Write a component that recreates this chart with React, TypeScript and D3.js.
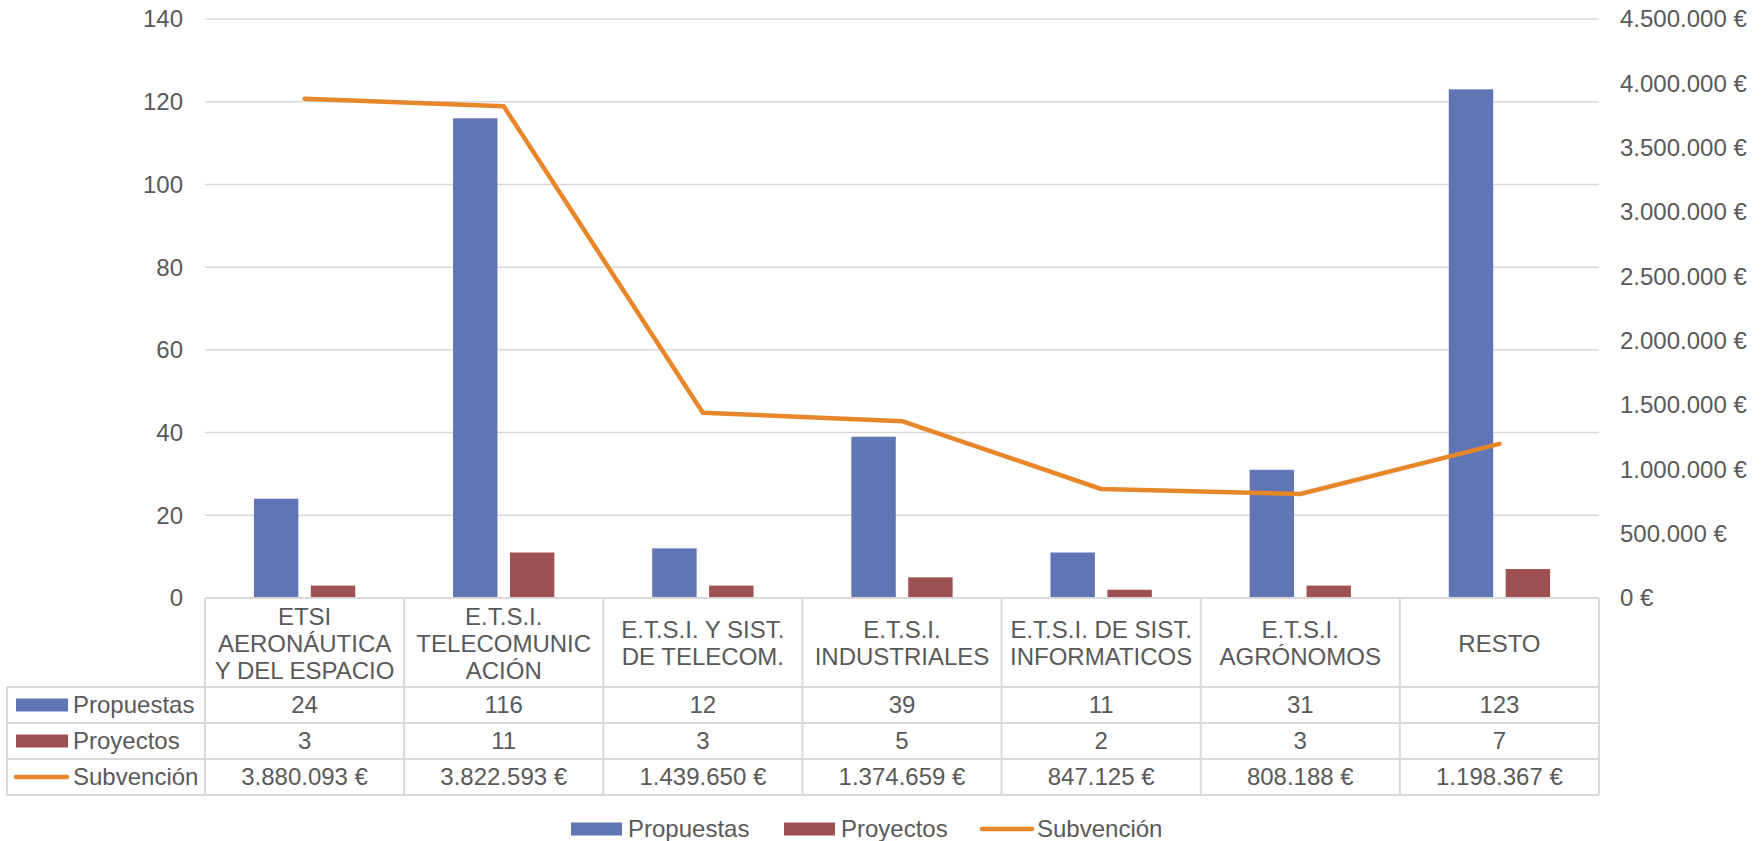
import React from "react";
import * as d3 from "d3";

const categories = [
  ["ETSI", "AERONÁUTICA", "Y DEL ESPACIO"],
  ["E.T.S.I.", "TELECOMUNIC", "ACIÓN"],
  ["E.T.S.I. Y SIST.", "DE TELECOM."],
  ["E.T.S.I.", "INDUSTRIALES"],
  ["E.T.S.I. DE SIST.", "INFORMATICOS"],
  ["E.T.S.I.", "AGRÓNOMOS"],
  ["RESTO"],
];
const propuestas = [24, 116, 12, 39, 11, 31, 123];
const proyectos = [3, 11, 3, 5, 2, 3, 7];
const subvencion = [3880093, 3822593, 1439650, 1374659, 847125, 808188, 1198367];
const leftTicks = [0, 20, 40, 60, 80, 100, 120, 140];
const rightTicks = [0, 500000, 1000000, 1500000, 2000000, 2500000, 3000000, 3500000, 4000000, 4500000];

const W = 1764;
const H = 841;
const FONT = "'Liberation Sans', Arial, sans-serif";
const TEXT = "#595959";
const GRID = "#D9D9D9";
const BLUE = "#6076B4";
const RED = "#9E5151";
const ORANGE = "#E8872A";

const locale = d3.formatLocale({ decimal: ",", thousands: ".", grouping: [3], currency: ["", " €"] });
const euro = (v: number) => locale.format(",.0f")(v) + " €";

export default function App() {
  const left = 205;
  const right = 1599;
  const top = 19;
  const bottom = 598;

  const idx = categories.map((_, i) => String(i));
  const x = d3.scaleBand().domain(idx).range([left, right]).padding(0);
  const bw = x.bandwidth();
  const sub = d3
    .scaleBand()
    .domain(["p", "r"])
    .range([0, bw])
    .paddingInner(0.219)
    .paddingOuter(0.86);
  const yL = d3.scaleLinear().domain([0, 140]).range([bottom, top]);
  const yR = d3.scaleLinear().domain([0, 4500000]).range([bottom, top]);

  const line = d3
    .line<number>()
    .x((_, i) => (x(String(i)) as number) + bw / 2)
    .y((d) => yR(d));

  // table rows
  const rowTops = [598, 687, 723, 759, 795];
  const tableLeft = 7;
  const rows = [
    { label: "Propuestas", values: propuestas.map(String), kind: "bar", color: BLUE },
    { label: "Proyectos", values: proyectos.map(String), kind: "bar", color: RED },
    { label: "Subvención", values: subvencion.map(euro), kind: "line", color: ORANGE },
  ];

  const legend = [
    { label: "Propuestas", color: BLUE, kind: "bar", x: 571 },
    { label: "Proyectos", color: RED, kind: "bar", x: 784 },
    { label: "Subvención", color: ORANGE, kind: "line", x: 980 },
  ];

  return (
    <svg
      width={W}
      height={H}
      style={{ position: "absolute", left: 0, top: 0, background: "#fff" }}
      fontFamily={FONT}
      fontSize={24}
    >
      {/* gridlines */}
      {leftTicks.slice(1).map((t) => (
        <line key={t} x1={left} x2={right} y1={yL(t)} y2={yL(t)} stroke={GRID} strokeWidth={1.5} />
      ))}

      {/* left axis labels */}
      {leftTicks.map((t) => (
        <text key={t} x={183} y={yL(t)} dy="0.35em" textAnchor="end" fill={TEXT}>
          {t}
        </text>
      ))}

      {/* right axis labels */}
      {rightTicks.map((t) => (
        <text key={t} x={1620} y={yR(t)} dy="0.35em" textAnchor="start" fill={TEXT}>
          {euro(t)}
        </text>
      ))}

      {/* bars */}
      {propuestas.map((v, i) => (
        <rect
          key={"p" + i}
          x={(x(String(i)) as number) + (sub("p") as number)}
          y={yL(v)}
          width={sub.bandwidth()}
          height={bottom - yL(v)}
          fill={BLUE}
        />
      ))}
      {proyectos.map((v, i) => (
        <rect
          key={"r" + i}
          x={(x(String(i)) as number) + (sub("r") as number)}
          y={yL(v)}
          width={sub.bandwidth()}
          height={bottom - yL(v)}
          fill={RED}
        />
      ))}

      {/* line */}
      <path
        d={line(subvencion) || ""}
        fill="none"
        stroke={ORANGE}
        strokeWidth={4.5}
        strokeLinecap="round"
        strokeLinejoin="round"
      />

      {/* data table */}
      <g stroke={GRID} strokeWidth={2}>
        <line x1={left} x2={right} y1={rowTops[0]} y2={rowTops[0]} />
        {rowTops.slice(1).map((y) => (
          <line key={y} x1={tableLeft} x2={right} y1={y} y2={y} />
        ))}
        <line x1={tableLeft} x2={tableLeft} y1={rowTops[1]} y2={rowTops[4]} />
        {idx.map((c) => (
          <line key={c} x1={x(c)} x2={x(c)} y1={rowTops[0]} y2={rowTops[4]} />
        ))}
        <line x1={right} x2={right} y1={rowTops[0]} y2={rowTops[4]} />
      </g>

      {/* header labels */}
      {categories.map((lines, i) => {
        const cx = (x(String(i)) as number) + bw / 2;
        const cy = (rowTops[0] + rowTops[1]) / 2 + 1;
        const lh = 27;
        return lines.map((ln, j) => (
          <text
            key={i + "-" + j}
            x={cx}
            y={cy + (j - (lines.length - 1) / 2) * lh}
            dy="0.35em"
            textAnchor="middle"
            fill={TEXT}
          >
            {ln}
          </text>
        ));
      })}

      {/* table rows */}
      {rows.map((r, ri) => {
        const cy = (rowTops[ri + 1] + rowTops[ri + 2]) / 2;
        return (
          <g key={r.label}>
            {r.kind === "bar" ? (
              <rect x={16} y={cy - 6.5} width={52} height={13} fill={r.color} />
            ) : (
              <line x1={16} x2={67} y1={cy} y2={cy} stroke={r.color} strokeWidth={4.5} strokeLinecap="round" />
            )}
            <text x={73} y={cy} dy="0.35em" fill={TEXT}>
              {r.label}
            </text>
            {r.values.map((v, i) => (
              <text
                key={i}
                x={(x(String(i)) as number) + bw / 2}
                y={cy}
                dy="0.35em"
                textAnchor="middle"
                fill={TEXT}
              >
                {v}
              </text>
            ))}
          </g>
        );
      })}

      {/* legend */}
      {legend.map((l) => (
        <g key={l.label}>
          {l.kind === "bar" ? (
            <rect x={l.x} y={829 - 6.5} width={51} height={13} fill={l.color} />
          ) : (
            <line x1={l.x + 2} x2={l.x + 52} y1={829} y2={829} stroke={l.color} strokeWidth={4.5} strokeLinecap="round" />
          )}
          <text x={l.x + 57} y={829} dy="0.35em" fill={TEXT}>
            {l.label}
          </text>
        </g>
      ))}
    </svg>
  );
}
